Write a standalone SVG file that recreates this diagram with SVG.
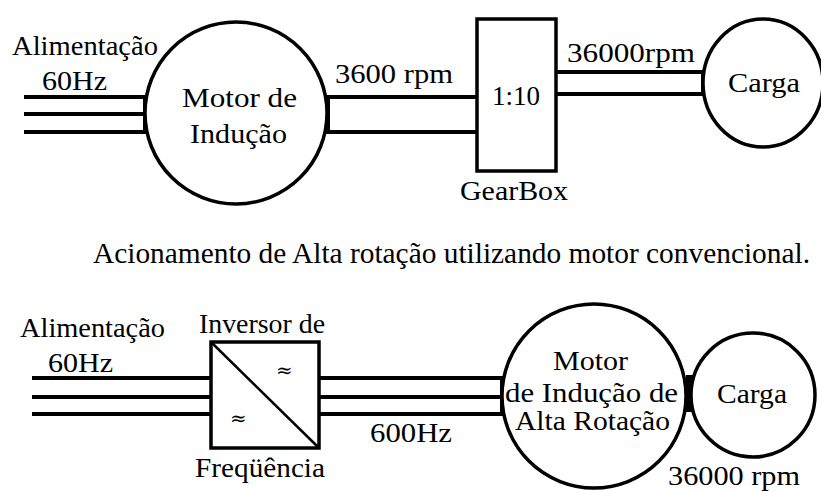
<svg xmlns="http://www.w3.org/2000/svg" width="821" height="491" viewBox="0 0 821 491">
<style>
  .w { fill: #fff; stroke: #000; stroke-width: 3.5; }
  .ln { stroke: #000; stroke-width: 4; fill: none; }
</style>
<rect width="821" height="491" fill="#fff"/>
<g id="connectors">
  <path class="ln" d="M24 97H145M24 114H145M24 132H145"/>
  <path class="ln" d="M145 95V134"/>
  <path class="ln" d="M328 97H477M328 132H477"/>
  <path class="ln" d="M328 95V134"/>
  <path class="ln" d="M556 72H703M556 94H703"/>
  <path class="ln" d="M703 70V96"/>
  <path class="ln" d="M32 378H211M32 397H211M32 414H211"/>
  <path class="ln" d="M319 378H502M319 397H502M319 414H502"/>
  <path class="ln" d="M502 376V416"/>
  <rect x="686" y="375" width="7" height="37" fill="#000"/>
</g>
<g id="motor1">
  <circle class="w" cx="236" cy="113" r="91"/>
  <text x="182" y="107" font-family="Liberation Serif, Times New Roman, serif" font-size="27" textLength="115" lengthAdjust="spacingAndGlyphs">Motor de</text>
  <text x="190" y="143" font-family="Liberation Serif, Times New Roman, serif" font-size="27" textLength="97" lengthAdjust="spacingAndGlyphs">Indu&#231;&#227;o</text>
</g>
<g id="power1">
  <text x="12" y="55" font-family="Liberation Serif, Times New Roman, serif" font-size="27" textLength="146" lengthAdjust="spacingAndGlyphs">Alimenta&#231;&#227;o</text>
  <text x="42" y="90" font-family="Liberation Serif, Times New Roman, serif" font-size="27" textLength="65" lengthAdjust="spacingAndGlyphs">60Hz</text>
</g>
<g id="shaft1-label">
  <text x="335" y="83" font-family="Liberation Serif, Times New Roman, serif" font-size="27" textLength="118" lengthAdjust="spacingAndGlyphs">3600 rpm</text>
</g>
<g id="gearbox">
  <rect class="w" x="477" y="19" width="79" height="152"/>
  <text x="492" y="105" font-family="Liberation Serif, Times New Roman, serif" font-size="27" textLength="48" lengthAdjust="spacingAndGlyphs">1:10</text>
  <text x="460" y="200" font-family="Liberation Serif, Times New Roman, serif" font-size="27" textLength="108" lengthAdjust="spacingAndGlyphs">GearBox</text>
</g>
<g id="shaft2-label">
  <text x="567" y="62" font-family="Liberation Serif, Times New Roman, serif" font-size="27" textLength="128" lengthAdjust="spacingAndGlyphs">36000rpm</text>
</g>
<g id="carga1">
  <ellipse class="w" cx="763" cy="83" rx="60" ry="64"/>
  <text x="728" y="92" font-family="Liberation Serif, Times New Roman, serif" font-size="27" textLength="72" lengthAdjust="spacingAndGlyphs">Carga</text>
</g>
<g id="caption">
  <text x="93" y="263" font-family="Liberation Serif, Times New Roman, serif" font-size="29" textLength="717" lengthAdjust="spacingAndGlyphs">Acionamento de Alta rota&#231;&#227;o utilizando motor convencional.</text>
</g>
<g id="power2">
  <text x="20" y="337" font-family="Liberation Serif, Times New Roman, serif" font-size="27" textLength="145" lengthAdjust="spacingAndGlyphs">Alimenta&#231;&#227;o</text>
  <text x="48" y="372" font-family="Liberation Serif, Times New Roman, serif" font-size="27" textLength="65" lengthAdjust="spacingAndGlyphs">60Hz</text>
</g>
<g id="inverter">
  <rect class="w" x="211" y="342" width="108" height="106"/>
  <line x1="211" y1="342" x2="319" y2="448" stroke="#000" stroke-width="2.5"/>
  <text x="276" y="377" font-family="DejaVu Serif, serif" font-size="20">&#8776;</text>
  <text x="230" y="425" font-family="DejaVu Serif, serif" font-size="20">&#8776;</text>
  <text x="199" y="333" font-family="Liberation Serif, Times New Roman, serif" font-size="27" textLength="126" lengthAdjust="spacingAndGlyphs">Inversor de</text>
  <text x="195" y="477" font-family="Liberation Serif, Times New Roman, serif" font-size="27" textLength="130" lengthAdjust="spacingAndGlyphs">Freq&#252;&#234;ncia</text>
</g>
<g id="freq-label">
  <text x="370" y="442" font-family="Liberation Serif, Times New Roman, serif" font-size="27" textLength="82" lengthAdjust="spacingAndGlyphs">600Hz</text>
</g>
<g id="motor2">
  <circle class="w" cx="594" cy="396" r="92"/>
  <text x="553" y="370" font-family="Liberation Serif, Times New Roman, serif" font-size="27" textLength="75" lengthAdjust="spacingAndGlyphs">Motor</text>
  <text x="505" y="402" font-family="Liberation Serif, Times New Roman, serif" font-size="27" textLength="173" lengthAdjust="spacingAndGlyphs">de Indu&#231;&#227;o de</text>
  <text x="515" y="430" font-family="Liberation Serif, Times New Roman, serif" font-size="27" textLength="155" lengthAdjust="spacingAndGlyphs">Alta Rota&#231;&#227;o</text>
</g>
<g id="carga2">
  <circle class="w" cx="753" cy="395" r="62"/>
  <text x="717" y="403" font-family="Liberation Serif, Times New Roman, serif" font-size="27" textLength="70" lengthAdjust="spacingAndGlyphs">Carga</text>
  <text x="668" y="485" font-family="Liberation Serif, Times New Roman, serif" font-size="27" textLength="132" lengthAdjust="spacingAndGlyphs">36000 rpm</text>
</g>
</svg>
